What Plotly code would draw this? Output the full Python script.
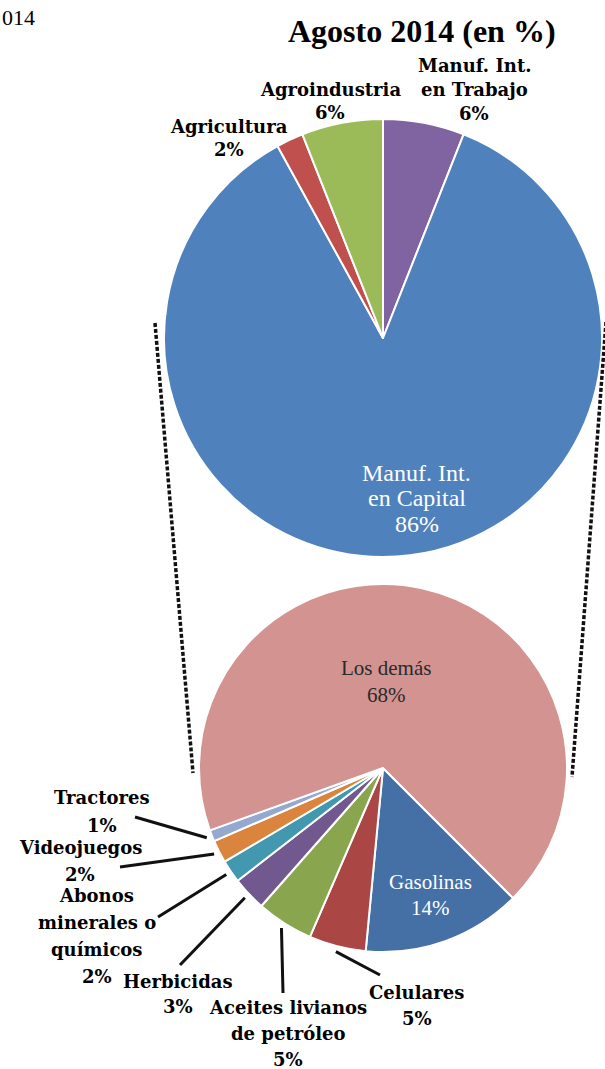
import math
import plotly.graph_objects as go

W, H = 605, 1069

# ---------------- data ----------------
top_labels = ["Manuf. Int. en Trabajo", "Manuf. Int. en Capital", "Agricultura", "Agroindustria"]
top_lines = [["Manuf. Int.", "en Trabajo"], ["Manuf. Int.", "en Capital"], ["Agricultura"], ["Agroindustria"]]
top_values = [6, 86, 2, 6]

bottom_labels = ["Gasolinas", "Celulares", "Aceites livianos de petróleo", "Herbicidas",
                 "Abonos minerales o químicos", "Videojuegos", "Tractores", "Los demás"]
bottom_lines = [["Gasolinas"], ["Celulares"], ["Aceites livianos", "de petróleo"], ["Herbicidas"],
                ["Abonos", "minerales o", "químicos"], ["Videojuegos"], ["Tractores"], ["Los demás"]]
bottom_values = [14, 5, 5, 3, 2, 2, 1, 68]

title_text = "Agosto 2014 (en %)"
corner_text = "014"

# ---------------- style / layout ----------------
top_colors = ["#8064A2", "#4F81BD", "#C0504D", "#9BBB59"]
bottom_colors = ["#4470A6", "#AA4643", "#89A54E", "#71588F", "#4198AF", "#DB843D", "#93A9CF", "#D29391"]

TOP = dict(cx=383, cy=338, r=219, rot=0)
BOT = dict(cx=383, cy=768, r=184, rot=135)

SERIF = "Liberation Serif, Times New Roman, serif"
BSERIF = "DejaVu Serif, serif"
OUT_SIZE = 18

# label placement (pixel centre of text block, line spacing, colour, font)
top_place = [
    dict(c=(474, 90), sp=24, color="#000", font=BSERIF, size=OUT_SIZE, bold=True),
    dict(c=(417, 498), sp=25.5, color="#ffffff", font=SERIF, size=24, bold=False),
    dict(c=(229, 138), sp=23, color="#000", font=BSERIF, size=OUT_SIZE, bold=True),
    dict(c=(330, 101), sp=23, color="#000", font=BSERIF, size=OUT_SIZE, bold=True),
]
bottom_place = [
    dict(c=(430, 895), sp=26, color="#ffffff", font=SERIF, size=21, bold=False, tail=None),
    dict(c=(417, 1005), sp=26, color="#000", font=BSERIF, size=OUT_SIZE, bold=True, tail=(380, 975)),
    dict(c=(288, 1033), sp=26, color="#000", font=BSERIF, size=OUT_SIZE, bold=True, tail=(283, 993)),
    dict(c=(178, 994), sp=25, color="#000", font=BSERIF, size=OUT_SIZE, bold=True, tail=(180, 965)),
    dict(c=(97, 936), sp=27, color="#000", font=BSERIF, size=OUT_SIZE, bold=True, tail=(158, 917)),
    dict(c=(80, 861), sp=27, color="#000", font=BSERIF, size=OUT_SIZE, bold=True, tail=(120, 867)),
    dict(c=(102, 811), sp=28, color="#000", font=BSERIF, size=OUT_SIZE, bold=True, tail=(135, 817)),
    dict(c=(386, 681), sp=27, color="#2a2a2a", font=SERIF, size=21, bold=False, tail=None),
]


def px(x, y):
    return x / W, 1 - y / H


def domain(p):
    x0, y0 = px(p["cx"] - p["r"], p["cy"] + p["r"])
    x1, y1 = px(p["cx"] + p["r"], p["cy"] - p["r"])
    return dict(x=[x0, x1], y=[y0, y1])


def mid_point(p, values, i, k=1.03):
    tot = sum(values)
    start = p["rot"] + 360 * sum(values[:i]) / tot
    ang = math.radians(start + 180 * values[i] / tot)
    return p["cx"] + k * p["r"] * math.sin(ang), p["cy"] - k * p["r"] * math.cos(ang)


fig = go.Figure()
fig.add_trace(go.Pie(labels=top_labels, values=top_values, sort=False, direction="clockwise",
                     rotation=TOP["rot"], textinfo="none", hoverinfo="label+percent",
                     marker=dict(colors=top_colors, line=dict(color="white", width=2)),
                     domain=domain(TOP), showlegend=False))
fig.add_trace(go.Pie(labels=bottom_labels, values=bottom_values, sort=False, direction="clockwise",
                     rotation=BOT["rot"], textinfo="none", hoverinfo="label+percent",
                     marker=dict(colors=bottom_colors, line=dict(color="white", width=2)),
                     domain=domain(BOT), showlegend=False))

annotations = []


def add_label(lines, value, pl):
    all_lines = list(lines) + [f"{value}%"]
    n = len(all_lines)
    cx, cy = pl["c"]
    for j, t in enumerate(all_lines):
        yy = cy + (j - (n - 1) / 2) * pl["sp"]
        xp, yp = px(cx, yy)
        annotations.append(dict(
            x=xp, y=yp, xref="paper", yref="paper", text=t, showarrow=False,
            xanchor="center", yanchor="middle",
            font=dict(family=pl["font"], size=pl["size"], color=pl["color"],
                      weight="bold" if pl["bold"] else "normal")))


for lines, v, pl in zip(top_lines, top_values, top_place):
    add_label(lines, v, pl)
for lines, v, pl in zip(bottom_lines, bottom_values, bottom_place):
    add_label(lines, v, pl)

shapes = []
# leader lines for bottom outside labels
for i, pl in enumerate(bottom_place):
    if pl["tail"] is None:
        continue
    tx, ty = mid_point(BOT, bottom_values, i)
    x0, y0 = px(*pl["tail"])
    x1, y1 = px(tx, ty)
    shapes.append(dict(type="line", xref="paper", yref="paper", x0=x0, y0=y0, x1=x1, y1=y1,
                       line=dict(color="#111", width=3)))

# dotted connector lines between the two pies
conn = [
    ((TOP["cx"] - TOP["r"] - 9, TOP["cy"] - 15), (BOT["cx"] - BOT["r"] - 6, BOT["cy"] + 5)),
    ((TOP["cx"] + TOP["r"] + 4, TOP["cy"] - 16), (BOT["cx"] + BOT["r"] + 5, BOT["cy"] + 9)),
]
for a, b in conn:
    x0, y0 = px(*a)
    x1, y1 = px(*b)
    shapes.append(dict(type="line", xref="paper", yref="paper", x0=x0, y0=y0, x1=x1, y1=y1,
                       line=dict(color="#111", width=3.5, dash="4px,2px")))

# title and corner text
tx, ty = px(422, 31)
annotations.append(dict(x=tx, y=ty, xref="paper", yref="paper", text=title_text, showarrow=False,
                        xanchor="center", yanchor="middle",
                        font=dict(family=SERIF, size=32, color="#000", weight="bold")))
cx_, cy_ = px(0, 17)
annotations.append(dict(x=cx_, y=cy_, xref="paper", yref="paper", text=corner_text, showarrow=False,
                        xanchor="left", yanchor="middle",
                        font=dict(family=SERIF, size=22, color="#000")))

fig.update_layout(width=W, height=H, margin=dict(l=0, r=0, t=0, b=0),
                  paper_bgcolor="white", plot_bgcolor="white",
                  annotations=annotations, shapes=shapes)

fig.write_html("out.html", config={"displayModeBar": False},
               post_script="document.body.style.margin='0';document.body.style.overflow='hidden';")
